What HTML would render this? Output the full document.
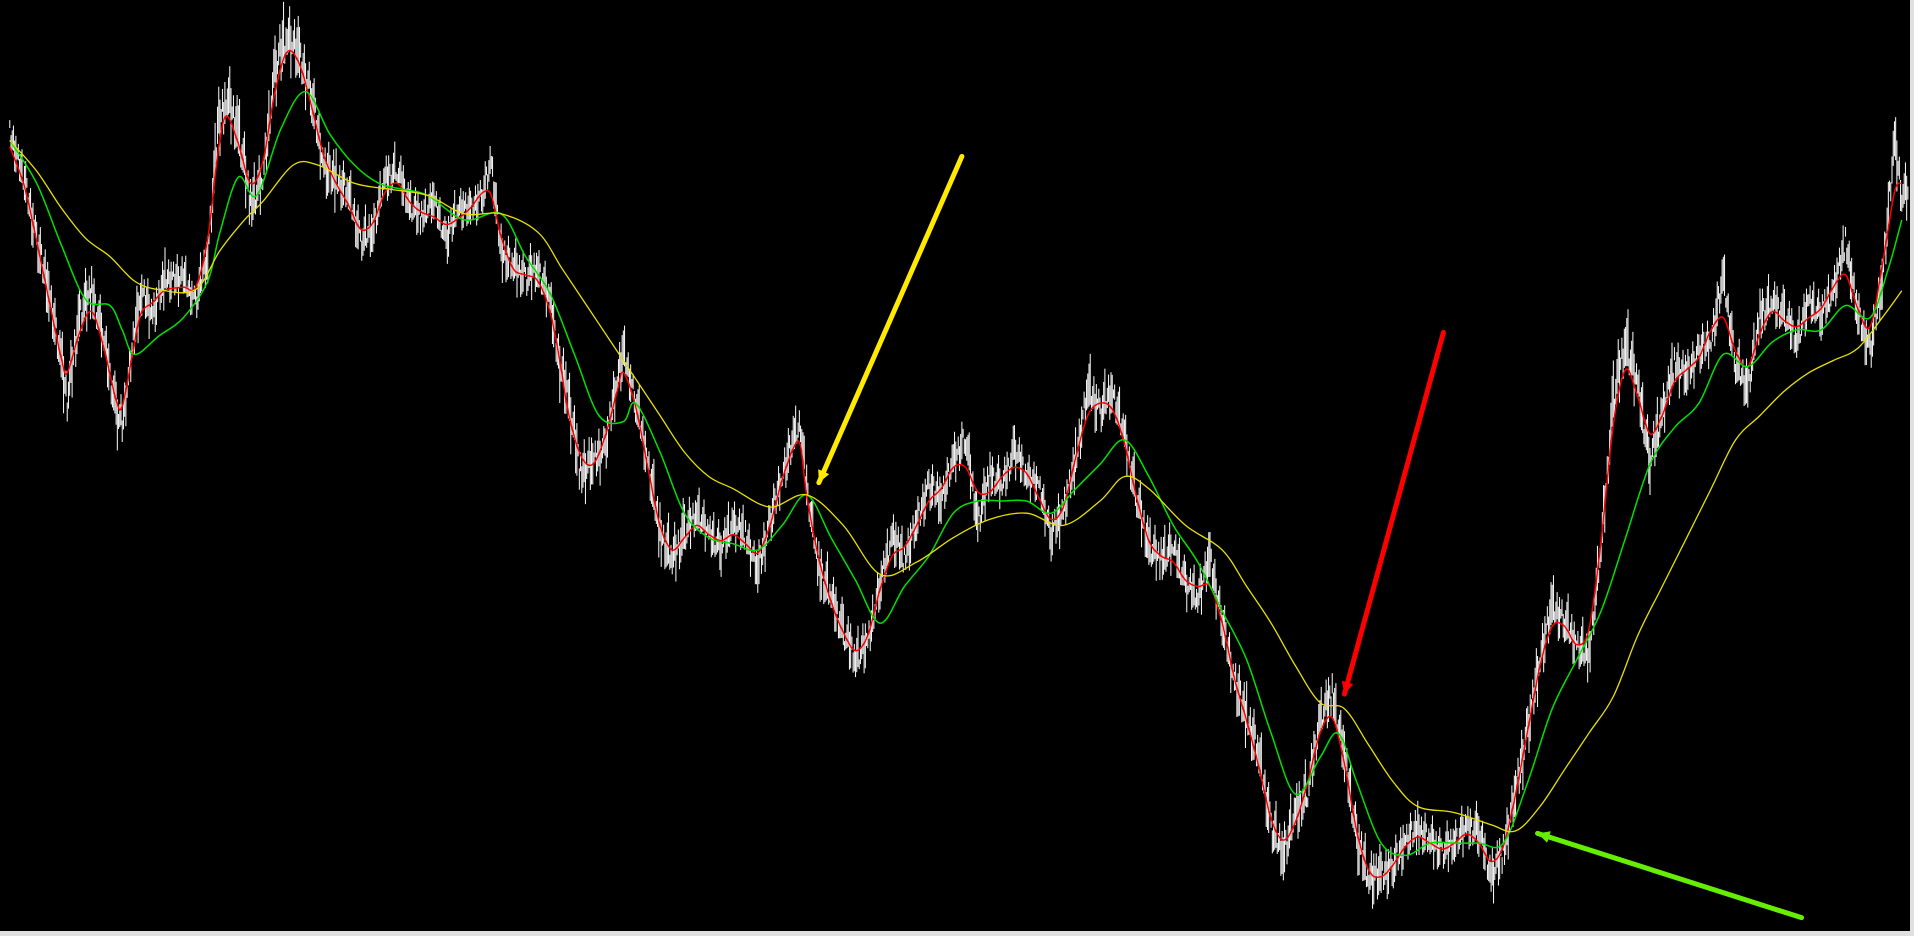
<!DOCTYPE html>
<html><head><meta charset="utf-8"><style>
html,body{margin:0;padding:0;background:#e0e0e0;width:1914px;height:936px;overflow:hidden}
#chart{position:absolute;left:0;top:0;width:1910px;height:931px;background:#000}
svg{display:block}
</style></head><body>
<div id="chart">
<svg id="svg" width="1910" height="931"></svg>
</div>
<script>
const priceX=[8,20,30,40,50,55,65,75,85,95,100,108,115,125,135,150,160,170,178,185,195,205,215,225,235,245,255,265,275,285,295,305,315,325,335,345,355,365,375,385,395,402,410,420,430,440,450,458,465,475,485,495,505,510,520,530,540,550,560,570,580,590,600,610,620,630,640,650,655,660,670,680,690,700,710,720,730,740,750,760,770,780,790,800,810,820,830,840,850,860,870,880,890,900,910,920,930,940,950,960,970,980,990,1000,1010,1020,1030,1040,1050,1060,1070,1080,1090,1100,1110,1120,1130,1140,1150,1160,1170,1180,1190,1200,1210,1220,1230,1240,1250,1260,1270,1280,1290,1300,1310,1320,1330,1340,1350,1360,1370,1380,1390,1400,1410,1420,1430,1440,1450,1460,1470,1480,1490,1500,1510,1520,1530,1540,1550,1556];
const priceY=[110,150,200,240,300,330,260,240,280,340,350,290,240,260,230,230,250,210,110,80,110,170,150,60,30,50,80,140,150,160,200,190,150,140,170,180,165,200,170,175,160,135,210,220,230,220,250,300,330,390,380,370,310,290,330,380,440,460,440,420,440,450,430,440,470,430,390,360,350,400,470,490,520,540,530,480,440,460,430,400,410,380,360,430,390,400,370,390,400,440,420,380,320,340,320,360,410,450,460,450,480,490,460,510,560,590,620,680,700,670,650,590,570,620,690,720,720,710,690,680,690,700,690,680,680,720,700,650,600,540,500,510,530,540,450,330,280,320,380,340,300,310,290,280,230,300,320,260,250,260,280,250,260,240,200,260,290,230,120,160];
const priceRange=[18,22,25,25,28,25,25,22,25,25,20,25,22,20,20,18,20,25,30,30,28,25,25,30,28,25,25,25,22,22,22,20,20,20,20,18,18,20,18,18,20,22,22,22,22,20,25,28,28,25,22,22,25,20,22,25,25,25,22,20,20,22,20,20,22,20,22,20,18,20,25,22,22,22,20,20,22,20,20,22,20,20,22,22,20,20,20,18,18,22,20,22,25,22,20,22,25,22,22,20,20,22,22,22,25,25,25,25,25,25,22,22,22,25,25,25,22,22,20,20,20,20,20,20,20,22,22,25,25,25,22,22,22,22,25,28,28,25,25,22,22,20,20,22,22,22,20,22,20,20,20,20,20,20,22,22,22,25,25,22];
const yellowX=[8,30,50,70,90,110,130,160,180,200,215,240,260,290,320,350,380,410,440,460,480,500,520,540,560,580,600,630,660,690,720,750,780,810,840,870,900,920,940,970,1000,1020,1040,1060,1080,1100,1120,1140,1160,1190,1220,1240,1260,1280,1300,1320,1340,1360,1380,1400,1420,1440,1460,1480,1500,1520,1540,1556];
const yellowY=[115,140,170,195,210,230,237,237,205,180,165,135,135,150,155,160,175,175,190,220,250,280,310,340,370,390,400,415,405,430,470,460,440,425,420,430,410,390,400,430,450,480,510,545,575,580,610,640,660,665,675,680,660,630,600,570,520,480,440,400,360,340,320,305,295,285,260,238];
const greenX=[8,30,50,70,90,100,110,130,150,170,180,195,210,230,250,270,290,310,330,350,380,410,430,450,470,490,510,520,540,560,580,600,620,640,660,680,700,720,740,760,780,800,820,840,860,880,900,920,940,960,980,1000,1020,1040,1060,1080,1095,1110,1130,1150,1170,1190,1210,1230,1250,1270,1290,1310,1330,1350,1370,1390,1410,1430,1450,1470,1490,1510,1530,1545,1556];
const greenY=[115,150,200,245,250,270,290,275,260,230,190,145,160,105,75,110,135,150,155,160,180,175,210,240,290,340,345,330,370,420,440,445,450,430,405,440,475,510,480,455,420,410,410,410,420,400,380,360,390,430,460,500,540,600,650,620,600,640,690,700,690,690,690,690,640,580,540,500,440,380,350,330,290,300,280,270,270,250,260,220,180];
const arrows=[{name:'yellow-arrow',c:'#ffea00',x1:787,y1:128,x2:670,y2:395},{name:'red-arrow',c:'#ff0000',x1:1181,y1:272,x2:1100,y2:568},{name:'green-arrow',c:'#66ee00',x1:1474,y1:751,x2:1258,y2:682}];

const SX=1914/1566, SY=936/766;
const xs=v=>v*SX, ys=v=>v*SY;
const svg=document.getElementById('svg');
const NS='http://www.w3.org/2000/svg';
function curve(X,Y,color,w,name){
  const P=X.map((x,i)=>[xs(x),ys(Y[i])]);
  let d='M'+P[0][0].toFixed(1)+','+P[0][1].toFixed(1);
  for(let i=0;i<P.length-1;i++){
    const p0=P[Math.max(0,i-1)],p1=P[i],p2=P[i+1],p3=P[Math.min(P.length-1,i+2)];
    const c1=[p1[0]+(p2[0]-p0[0])/6,p1[1]+(p2[1]-p0[1])/6];
    const c2=[p2[0]-(p3[0]-p1[0])/6,p2[1]-(p3[1]-p1[1])/6];
    d+=`C${c1[0].toFixed(1)},${c1[1].toFixed(1)} ${c2[0].toFixed(1)},${c2[1].toFixed(1)} ${p2[0].toFixed(1)},${p2[1].toFixed(1)}`;
  }
  const p=document.createElementNS(NS,'path');
  p.setAttribute('d',d);
  p.setAttribute('fill','none');p.setAttribute('stroke',color);p.setAttribute('stroke-width',w);
  
  
  svg.appendChild(p);
}
const g=document.createElementNS(NS,'g');


svg.appendChild(g);
for(let i=0;i<priceX.length;i++){
  const n=i<priceX.length-1?priceX[i+1]-priceX[i]:6;
  const y0=priceY[i], y1=i<priceX.length-1?priceY[i+1]:priceY[i];
  for(let k=0;k<n;k+=1){
    const t=k/n, x=priceX[i]+k, c=y0+(y1-y0)*t;
    const h=((k*13+i*7)%11)/11, h2=((k*5+i*11)%7)/7;
    const off=(h2-0.5)*priceRange[i]*0.9;
    const r=priceRange[i]*(h*0.8+0.2);
    const l=document.createElementNS(NS,'line');
    l.setAttribute('x1',xs(x));l.setAttribute('x2',xs(x));
    l.setAttribute('y1',ys(c+off-r));l.setAttribute('y2',ys(c+off+r*0.8));
    l.setAttribute('stroke','#fff');l.setAttribute('stroke-width','1');
    
    
    g.appendChild(l);
  }
}
const redY=priceY.map((v,i)=>{const a=priceY[Math.max(0,i-1)],b=priceY[Math.min(priceY.length-1,i+1)];return (a+2*v+b)/4;});
curve(priceX,redY,'#ff0000',1.5,'fast-ma-line');
curve(greenX,greenY,'#00e000',1.5,'mid-ma-line');
curve(yellowX,yellowY,'#e8e000',1.3,'slow-ma-line');
arrows.forEach(a=>{
  const x1=xs(a.x1),y1=ys(a.y1),x2=xs(a.x2),y2=ys(a.y2);
  const l=document.createElementNS(NS,'line');
  l.setAttribute('x1',x1);l.setAttribute('y1',y1);l.setAttribute('x2',x2);l.setAttribute('y2',y2);
  l.setAttribute('stroke',a.c);l.setAttribute('stroke-width','5');l.setAttribute('stroke-linecap','round');
  
  
  svg.appendChild(l);
  const ang=Math.atan2(y2-y1,x2-x1),L=12,W=6;
  const hx=x2-L*Math.cos(ang),hy=y2-L*Math.sin(ang);
  const h=document.createElementNS(NS,'polygon');
  h.setAttribute('points',`${x2},${y2} ${hx+W*Math.sin(ang)},${hy-W*Math.cos(ang)} ${hx-W*Math.sin(ang)},${hy+W*Math.cos(ang)}`);
  h.setAttribute('fill',a.c);
  
  
  svg.appendChild(h);
});
</script>
</body></html>
